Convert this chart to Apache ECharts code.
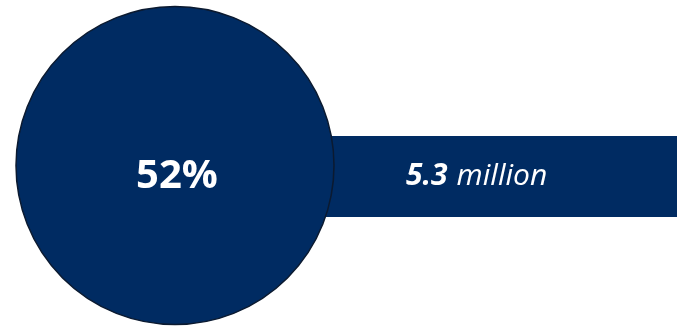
<!DOCTYPE html>
<html>
<head>
<meta charset="utf-8">
<style>
  html, body { margin: 0; padding: 0; background: #ffffff; }
  #chart { width: 677px; height: 328px; }
</style>
<script src="https://cdn.jsdelivr.net/npm/echarts@6/dist/echarts.min.js"></script>
</head>
<body>
<div id="chart"></div>
<script>
// Share shown in the circle and the count shown on the bar
const categories = ['total'];
const shareValues = [52];        // percent
const countValues = [5.3];       // millions
const countUnit = 'million';

const navy = '#002b62';

const chart = echarts.init(document.getElementById('chart'), null, { renderer: 'canvas' });

chart.setOption({
  animation: false,
  backgroundColor: '#ffffff',
  grid: { left: 175, right: 0, top: 136, bottom: 111, containLabel: false },
  xAxis: {
    type: 'value',
    min: 0,
    max: Math.max.apply(null, countValues),
    show: false
  },
  yAxis: {
    type: 'category',
    data: categories,
    show: false
  },
  series: [
    {
      type: 'bar',
      data: countValues,
      barWidth: '100%',
      z: 1,
      itemStyle: { color: navy },
      label: {
        show: true,
        position: [231, '50%'],
        align: 'left',
        verticalAlign: 'middle',
        formatter: p => '{num|' + p.value + '}{unit|' + countUnit + '}',
        rich: {
          num: { fontFamily: 'Open Sans', fontStyle: 'italic', fontWeight: 'bold', fontSize: 30, color: '#ffffff', padding: [0, 9, 0, 0] },
          unit: { fontFamily: 'Open Sans', fontStyle: 'italic', fontWeight: 'normal', fontSize: 30, color: '#ffffff' }
        }
      }
    },
    {
      type: 'scatter',
      data: categories.map(() => [0, 0]),
      symbol: 'circle',
      symbolSize: 318,
      symbolOffset: [0, -11],
      clip: false,
      z: 3,
      itemStyle: { color: navy, borderColor: '#0b1a30', borderWidth: 1.5, opacity: 1 },
      label: {
        show: true,
        position: 'inside',
        offset: [2, 11],
        formatter: p => shareValues[p.dataIndex] + '%',
        fontFamily: 'Open Sans',
        fontWeight: 'bold',
        fontSize: 40,
        color: '#ffffff'
      },
      emphasis: { disabled: true }
    }
  ]
});
</script>
</body>
</html>
